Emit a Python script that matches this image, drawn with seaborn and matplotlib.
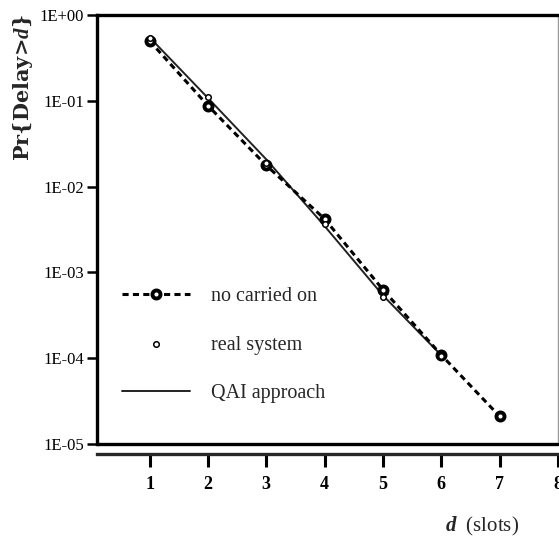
import matplotlib
matplotlib.use("Agg")
import matplotlib.pyplot as plt
import numpy as np
import pandas as pd
import seaborn as sns

# Delay-tail probabilities Pr{Delay > d} versus d (slots)
d_no_carried = [1, 2, 3, 4, 5, 6, 7]
no_carried_on = [0.50, 0.088, 0.0177, 0.0042, 6.3e-4, 1.09e-4, 2.1e-5]

d_real = [1, 2, 3, 4, 5, 6]
real_system = [0.54, 0.112, 0.019, 0.0037, 5.2e-4, 1.05e-4]

d_qai = [1, 2, 3, 4, 5, 6]
qai_approach = [0.55, 0.108, 0.0208, 0.00347, 5.4e-4, 1.08e-4]

x_ticks = [1, 2, 3, 4, 5, 6, 7, 8]
y_ticks = [1.0, 1e-1, 1e-2, 1e-3, 1e-4, 1e-5]
y_tick_labels = ["1E+00", "1E-01", "1E-02", "1E-03", "1E-04", "1E-05"]

sns.set_style("ticks")
plt.rcParams["font.family"] = ["Liberation Serif", "DejaVu Serif"]
plt.rcParams["mathtext.fontset"] = "custom"
plt.rcParams["mathtext.bfit"] = "Liberation Serif:italic:bold"
plt.rcParams["mathtext.it"] = "Liberation Serif:italic"

W, H = 559, 539
fig = plt.figure(figsize=(W / 100, H / 100), dpi=100)
left, right, top, bottom = 97, 558, 15, 444
ax = fig.add_axes([left / W, (H - bottom) / H, (right - left) / W, (bottom - top) / H])

px_per_unit = 58.6
ax.set_xlim(0.1, 0.1 + (right - left) / px_per_unit)
ax.set_yscale("log")
ax.set_ylim(1e-5, 1.0)

# QAI approach: thin solid line
sns.lineplot(x=d_qai, y=qai_approach, ax=ax, color="#222222", linewidth=1.4,
             label="QAI approach", zorder=2, legend=False)
# no carried on: dashed line with heavy ring markers
sns.lineplot(x=d_no_carried, y=no_carried_on, ax=ax, color="black", linewidth=2.2,
             linestyle=(0, (2.0, 1.4)), marker="o", markersize=5.8,
             markerfacecolor="white", markeredgecolor="black", markeredgewidth=2.8,
             label="no carried on", zorder=3, legend=False)
# real system: small open circles
sns.scatterplot(x=d_real, y=real_system, ax=ax, marker="o", s=16,
                facecolor="white", edgecolor="black", linewidth=1.1,
                label="real system", zorder=4, legend=False)

# axes frame
for side in ["top", "left"]:
    ax.spines[side].set_linewidth(2.4)
    ax.spines[side].set_color("black")
ax.spines["right"].set_linewidth(1.0)
ax.spines["right"].set_color("#999999")
ax.spines["bottom"].set_linewidth(2.4)
ax.spines["bottom"].set_position(("outward", 7.2))
ax.axhline(1e-5, color="black", linewidth=2.4, clip_on=False, zorder=5)

ax.set_yticks(y_ticks)
ax.set_yticklabels(y_tick_labels)
ax.yaxis.set_minor_locator(matplotlib.ticker.NullLocator())
ax.tick_params(axis="y", direction="out", length=7.5, width=1.8, pad=2,
               labelsize=12, colors="black")
ax.set_xticks(x_ticks)
ax.set_xticklabels([str(t) for t in x_ticks], fontweight="bold")
ax.tick_params(axis="x", direction="out", length=9, width=2.2, pad=7,
               labelsize=13, colors="black")

ax.set_xlabel("")
ax.set_ylabel("")

# axis titles
fig.text(23 / W, 1 - 88 / H, r"Pr{Delay>$\mathbfit{d}$}", rotation=90,
         ha="center", va="center", fontsize=15, fontweight="bold",
         family=["DejaVu Serif"])
fig.text(482 / W, 1 - 526 / H, r"$\mathbfit{d}$  (slots)", ha="center",
         va="center", fontsize=15)

# legend
handles, labels = ax.get_legend_handles_labels()
order = [labels.index(n) for n in ["no carried on", "real system", "QAI approach"]]
leg = fig.legend([handles[i] for i in order], [labels[i] for i in order],
                 loc="center left", bbox_to_anchor=(122 / W, 1 - 345 / H),
                 frameon=False, fontsize=14.5, borderpad=0, borderaxespad=0,
                 handlelength=3.4, handletextpad=1.0, labelspacing=1.45,
                 numpoints=1, scatterpoints=1)

fig.savefig("out.png", dpi=100)
